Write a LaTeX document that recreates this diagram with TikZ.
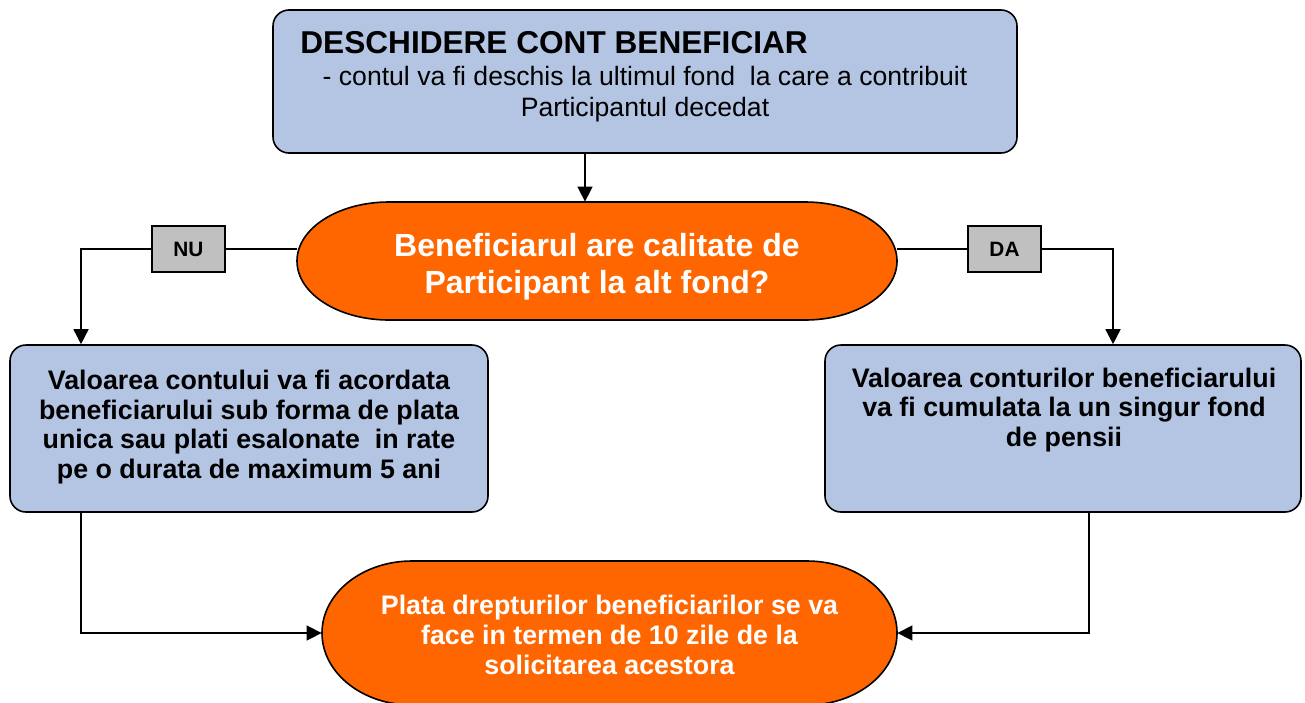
\documentclass[tikz,border=0pt]{standalone}
\usepackage{fontspec}
\setmainfont{Liberation Sans}
\usetikzlibrary{arrows.meta}
\definecolor{boxblue}{RGB}{180,197,228}
\definecolor{termorange}{RGB}{255,102,0}
\definecolor{labelgray}{RGB}{192,192,192}
\begin{document}
\begin{tikzpicture}[x=0.5pt,y=-0.5pt,
  bluebox/.style={draw,line width=0.8pt,fill=boxblue,rounded corners=8pt,inner sep=0pt},
  termline/.style={draw,line width=0.8pt,fill=termorange},
  answer/.style={draw,line width=0.7pt,fill=labelgray,minimum width=36.5pt,minimum height=23pt,inner sep=0pt,font=\fontsize{10.4}{12}\selectfont\bfseries},
  boxtext/.style={align=center,inner sep=0pt,font=\fontsize{13.4}{14.9}\selectfont\bfseries},
  termtext/.style={align=center,inner sep=0pt,text=white},
  link/.style={line width=0.75pt},
  arrow/.style={link,-{Triangle[length=7.5pt,width=7.5pt]}}]
  \useasboundingbox (0,0) rectangle (1305,702);

  % start box
  \node[bluebox,minimum width=372pt,minimum height=71.5pt] (top) at (645,81.5) {};
  \node[anchor=base west,inner sep=0pt,font=\fontsize{15.8}{18}\selectfont\bfseries] (title) at (300,53) {DESCHIDERE CONT BENEFICIAR};
  \node[align=center,inner sep=0pt,font=\fontsize{13.3}{15.3}\selectfont] (topnote) at (645,94)
    {- contul va fi deschis la ultimul fond\ \ la care a contribuit\\ Participantul decedat};

  % question
  \filldraw[termline] (389,202) -- (805,202)
    arc[start angle=-90,end angle=90,x radius=92,y radius=59] -- (389,320)
    arc[start angle=90,end angle=270,x radius=92,y radius=59] -- cycle;
  \node[minimum width=300pt,minimum height=59pt,inner sep=0pt] (q) at (597,261) {};
  \node[termtext,font=\fontsize{16}{18.5}\selectfont\bfseries] (qtext) at (597,267)
    {Beneficiarul are calitate de\\Participant la alt fond?};

  % answers
  \node[answer] (nu) at (188.5,249) {NU};
  \node[answer] (da) at (1004.5,249) {DA};

  % results
  \node[bluebox,minimum width=239pt,minimum height=83.5pt] (lbox) at (249,428.5) {};
  \node[boxtext] (ltext) at (249,427)
    {Valoarea contului va fi acordata\\beneficiarului sub forma de plata\\unica sau plati esalonate\ \ in rate\\pe o durata de maximum 5 ani};
  \node[bluebox,minimum width=238pt,minimum height=83.5pt] (rbox) at (1063,428.5) {};
  \node[boxtext] (rtext) at (1064,410)
    {Valoarea conturilor beneficiarului\\va fi cumulata la un singur fond\\de pensii};

  % payment
  \filldraw[termline] (412,561) -- (807,561)
    arc[start angle=-90,end angle=90,x radius=90,y radius=72] -- (412,705)
    arc[start angle=90,end angle=270,x radius=90,y radius=72] -- cycle;
  \node[minimum width=287.5pt,minimum height=72pt,inner sep=0pt] (pay) at (609.5,633) {};
  \node[termtext,font=\fontsize{13.4}{15}\selectfont\bfseries] (paytext) at (609.5,634.5)
    {Plata drepturilor beneficiarilor se va\\face in termen de 10 zile de la\\solicitarea acestora};

  % connectors
  \coordinate (drop) at (585,0);
  \coordinate (nuturn) at (81,249);
  \coordinate (daturn) at (1113,249);
  \coordinate (lout) at (81,633);
  \coordinate (rout) at (1089,633);
  \draw[arrow] (drop |- top.south) -- (drop |- q.north);
  \draw[link] (q.west |- nu) -- (nu.east);
  \draw[arrow] (nu.west) -- (nuturn) -- (nuturn |- lbox.north);
  \draw[link] (q.east |- da) -- (da.west);
  \draw[arrow] (da.east) -- (daturn) -- (daturn |- rbox.north);
  \draw[arrow] (lout |- lbox.south) -- (lout) -- (pay.west);
  \draw[arrow] (rout |- rbox.south) -- (rout) -- (pay.east);
\end{tikzpicture}
\end{document}
